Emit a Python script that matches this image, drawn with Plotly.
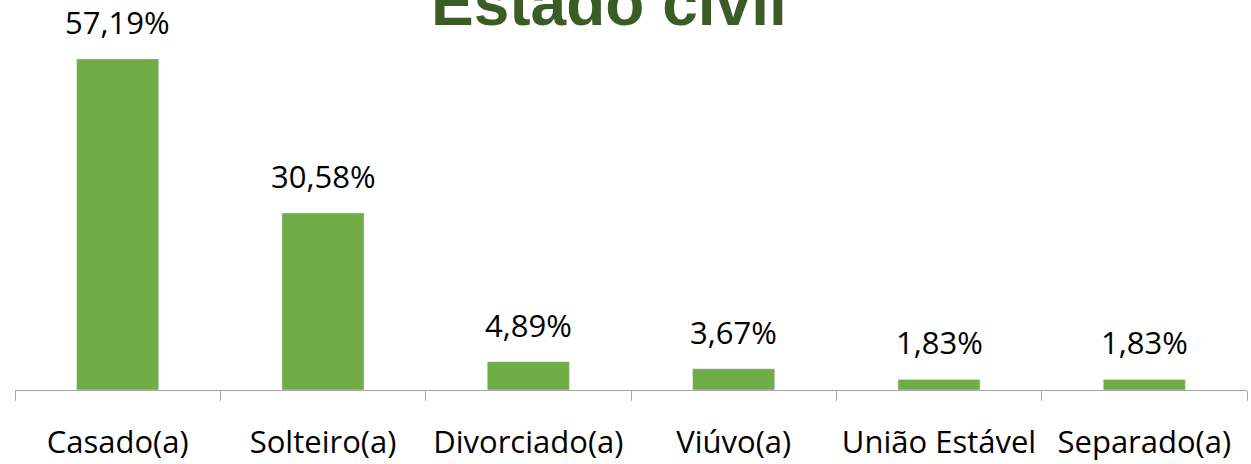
import plotly.graph_objects as go

categories = ["Casado(a)", "Solteiro(a)", "Divorciado(a)", "Viúvo(a)", "União Estável", "Separado(a)"]
values = [57.19, 30.58, 4.89, 3.67, 1.83, 1.83]
labels = ["57,19%", "30,58%", "4,89%", "3,67%", "1,83%", "1,83%"]
title_text = "Estado civil"

fig = go.Figure(go.Bar(x=categories, y=values, marker_color="#70AD47", hoverinfo="skip"))

annotations = [
    dict(x=c, y=v, xref="x", yref="y", text=t, showarrow=False, yanchor="bottom",
         yshift=14, font=dict(family="Open Sans", size=31, color="#000000"))
    for c, v, t in zip(categories, values, labels)
]
annotations.append(dict(x=0.482, y=1, xref="paper", yref="paper", text="<b>" + title_text + "</b>",
                        showarrow=False, yanchor="middle", yshift=-3,
                        font=dict(family="Liberation Sans, Arial", size=64, color="#3B5C25")))

fig.update_layout(
    width=1251, height=464,
    margin=dict(l=15, r=4, t=0, b=74, autoexpand=False),
    paper_bgcolor="white", plot_bgcolor="white",
    bargap=0.6, showlegend=False,
    annotations=annotations,
    xaxis=dict(showline=True, linecolor="#A6A6A6", linewidth=1, ticks="outside", ticklen=10,
               tickcolor="#A6A6A6", tickson="boundaries", ticklabelstandoff=25, automargin=False,
               tickfont=dict(family="Open Sans", size=31, color="#000000"), showgrid=False),
    yaxis=dict(range=[0, 67.36], visible=False, showgrid=False, zeroline=False, automargin=False),
)

fig.write_html("out.html", config={"displayModeBar": False},
               post_script="document.body.style.margin='0';document.body.style.overflow='hidden';")
